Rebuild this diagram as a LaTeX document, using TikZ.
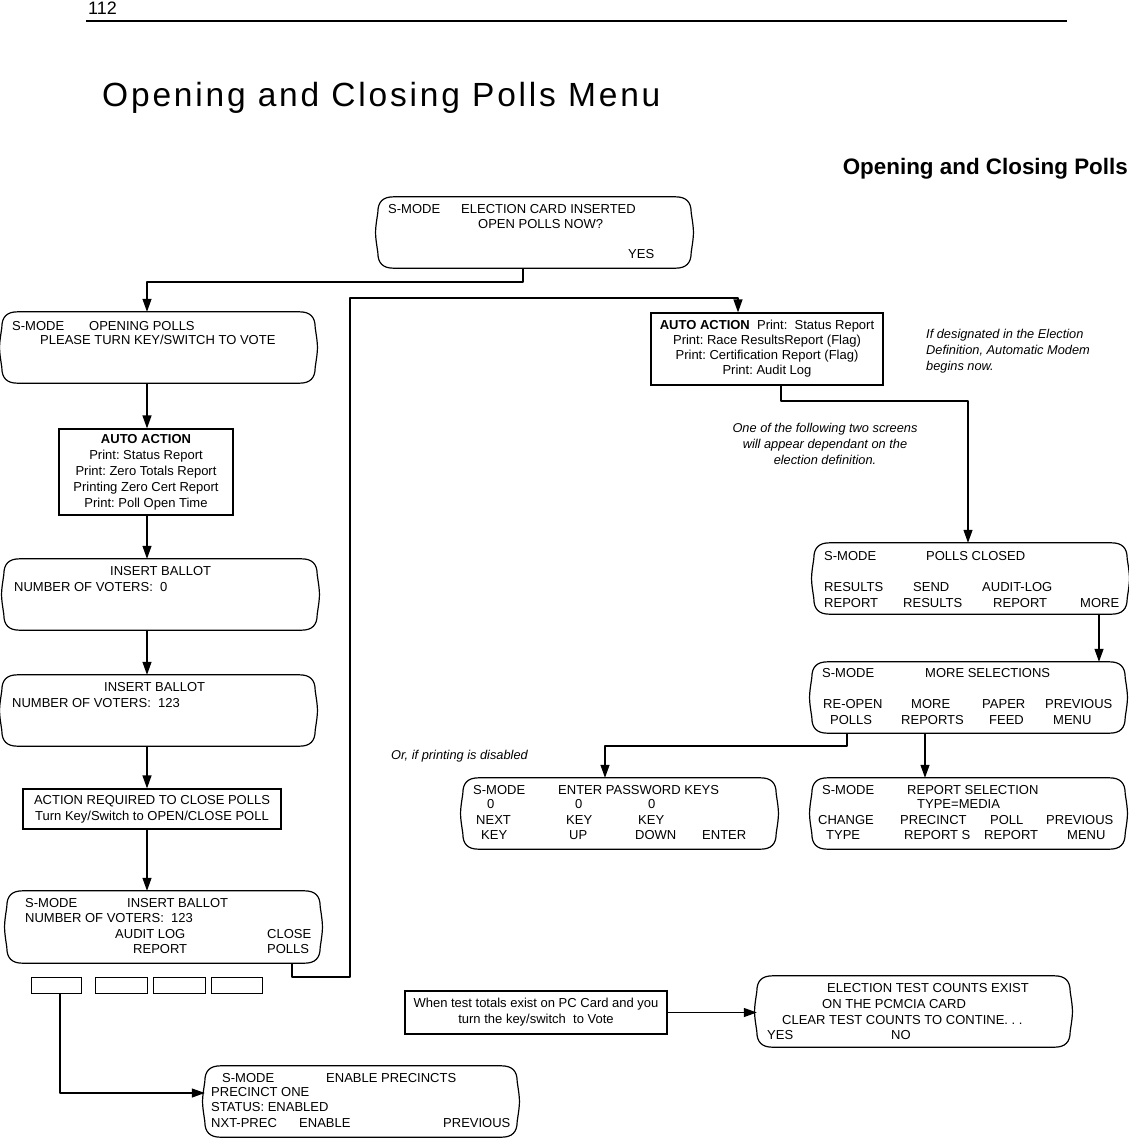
\documentclass[tikz,border=0pt]{standalone}
\usepackage{fontspec}
\setmainfont{Liberation Sans}
\newfontfamily\titlefont[LetterSpace=8.4]{Liberation Sans}
\usetikzlibrary{arrows.meta}
\frenchspacing
\newcommand\fs{\fontsize{13}{15.5}\selectfont}
\newcommand\scrframe[1]{%
\draw[ln] ([xshift=16pt]#1.north west) -- ([xshift=-16pt]#1.north east)
 .. controls ([xshift=-5pt]#1.north east) and ([yshift=-5pt]#1.north east) .. ([yshift=-16pt]#1.north east)
 .. controls ([xshift=3pt]#1.east) .. ([yshift=16pt]#1.south east)
 .. controls ([yshift=5pt]#1.south east) and ([xshift=-5pt]#1.south east) .. ([xshift=-16pt]#1.south east)
 -- ([xshift=16pt]#1.south west)
 .. controls ([xshift=5pt]#1.south west) and ([yshift=5pt]#1.south west) .. ([yshift=16pt]#1.south west)
 .. controls ([xshift=-3pt]#1.west) .. ([yshift=-16pt]#1.north west)
 .. controls ([yshift=-5pt]#1.north west) and ([xshift=5pt]#1.north west) .. ([xshift=16pt]#1.north west) -- cycle;}
\tikzset{
 ln/.style={line width=1.2pt, line join=round},
 arr/.style={ln, -{Triangle[length=13pt,width=9pt]}},
 scr/.style={minimum width=313pt, minimum height=71pt, inner sep=0pt, draw=none},
 bx/.style={draw, line width=1.2pt, align=center, font=\fontsize{13}{16}\selectfont, inner sep=0pt},
 btn/.style={draw, line width=1pt, minimum height=16pt, inner sep=0pt},
 t/.style={anchor=base west, inner sep=0pt, font=\fs, yshift=-4.6pt},
 note/.style={font=\fontsize{12.8}{16}\selectfont\itshape, inner sep=0pt}
}
\begin{document}
\begin{tikzpicture}[x=1pt,y=-1pt]
\fill[white] (0,0) rectangle (1129,1138);
\useasboundingbox (0,0) rectangle (1129,1138);

% header
\node[anchor=west, inner sep=0pt, font=\fontsize{18}{18}\selectfont] (pg) at (88,8) {112};
\draw[line width=1.5pt] (86,21) -- (1067,21);
\node[anchor=base west, inner sep=0pt, font=\fontsize{33.5}{36}\titlefont] (title) at (102,106) {Opening and Closing Polls Menu};
\node[anchor=base east, inner sep=0pt, font=\fontsize{22.4}{24}\selectfont\bfseries] (sub) at (1128,174) {Opening and Closing Polls};

% screens
\node[scr] (s1) at (534.5,232.5) {};
\node[scr] (s2) at (158.5,347.5) {};
\node[scr] (s3) at (160.5,594.5) {};
\node[scr] (s4) at (158.5,710.5) {};
\node[scr, minimum height=72pt] (s5) at (163.5,927) {};
\node[scr] (s6) at (970.5,578.5) {};
\node[scr] (s7) at (968.5,697.5) {};
\node[scr] (s9) at (619.5,813.5) {};
\node[scr] (s10) at (968.5,813.5) {};
\node[scr] (s11) at (913.5,1011.5) {};
\node[scr, minimum width=312pt] (s8) at (361,1101.5) {};
\foreach \n in {s1,s2,s3,s4,s5,s6,s7,s8,s9,s10,s11} {\scrframe{\n}}

% rectangular boxes
\node[bx, minimum width=174pt, minimum height=86pt] (a1) at (146,472) {\textbf{AUTO ACTION}\\Print: Status Report\\Print: Zero Totals Report\\Printing Zero Cert Report\\Print: Poll Open Time};
\node[bx, minimum width=258pt, minimum height=40pt] (r2) at (152,809) {ACTION REQUIRED TO CLOSE POLLS\\Turn Key/Switch to OPEN/CLOSE POLL};
\node[bx, minimum width=232pt, minimum height=72pt, font=\fontsize{13}{15}\selectfont] (a2) at (767,349) {\textbf{AUTO ACTION}\ \ Print:\ \ Status Report\\Print: Race ResultsReport (Flag)\\Print: Certification Report (Flag)\\Print: Audit Log};
\node[bx, minimum width=262pt, minimum height=43pt] (r3) at (536,1012.5) {When test totals exist on PC Card and you\\turn the key/switch\ \ to Vote};

% buttons
\node[btn, minimum width=50pt] (b1) at (56,985) {};
\node[btn, minimum width=52pt] (b2) at (121,985) {};
\node[btn, minimum width=52pt] (b3) at (179,985) {};
\node[btn, minimum width=51pt] (b4) at (236.5,985) {};

% notes
\node[note, align=left, anchor=west] (n1) at (926,351) {If designated in the Election\\Definition, Automatic Modem\\begins now.};
\node[note, align=center] (n2) at (825,444) {One of the following two screens\\will appear dependant on the\\election definition.};
\node[note, anchor=west] (n3) at (391,756) {Or, if printing is disabled};

% s1 text
\node[t] (s1a) at (388,209) {S-MODE};
\node[t] (s1b) at (461,209) {ELECTION CARD INSERTED};
\node[t] (s1c) at (478,224) {OPEN POLLS NOW?};
\node[t] (s1d) at (628,254) {YES};
% s2
\node[t] (s2a) at (12,326) {S-MODE};
\node[t] (s2b) at (89,326) {OPENING POLLS};
\node[t] (s2c) at (40,340) {PLEASE TURN KEY/SWITCH TO VOTE};
% s3
\node[t] (s3a) at (110,571) {INSERT BALLOT};
\node[t] (s3b) at (14,587) {NUMBER OF VOTERS:\ \ 0};
% s4
\node[t] (s4a) at (104,687) {INSERT BALLOT};
\node[t] (s4b) at (12,703) {NUMBER OF VOTERS:\ \ 123};
% s5
\node[t] (s5a) at (25,903) {S-MODE};
\node[t] (s5b) at (127,903) {INSERT BALLOT};
\node[t] (s5c) at (25,918) {NUMBER OF VOTERS:\ \ 123};
\node[t] (s5d) at (115,934) {AUDIT LOG};
\node[t] (s5e) at (267,934) {CLOSE};
\node[t] (s5f) at (133,949) {REPORT};
\node[t] (s5g) at (267,949) {POLLS};
% s8
\node[t] (s8a) at (222,1078) {S-MODE};
\node[t] (s8b) at (326,1078) {ENABLE PRECINCTS};
\node[t] (s8c) at (211,1092) {PRECINCT ONE};
\node[t] (s8d) at (211,1107) {STATUS: ENABLED};
\node[t] (s8e) at (211,1123) {NXT-PREC};
\node[t] (s8f) at (299,1123) {ENABLE};
\node[t] (s8g) at (443,1123) {PREVIOUS};
% s6
\node[t] (s6a) at (824,556) {S-MODE};
\node[t] (s6b) at (926,556) {POLLS CLOSED};
\node[t] (s6c) at (824,587) {RESULTS};
\node[t] (s6d) at (913,587) {SEND};
\node[t] (s6e) at (982,587) {AUDIT-LOG};
\node[t] (s6f) at (824,603) {REPORT};
\node[t] (s6g) at (903,603) {RESULTS};
\node[t] (s6h) at (993,603) {REPORT};
\node[t] (s6i) at (1080,603) {MORE};
% s7
\node[t] (s7a) at (822,673) {S-MODE};
\node[t] (s7b) at (925,673) {MORE SELECTIONS};
\node[t] (s7c) at (823,704) {RE-OPEN};
\node[t] (s7d) at (911,704) {MORE};
\node[t] (s7e) at (982,704) {PAPER};
\node[t] (s7f) at (1045,704) {PREVIOUS};
\node[t] (s7g) at (830,720) {POLLS};
\node[t] (s7h) at (901,720) {REPORTS};
\node[t] (s7i) at (989,720) {FEED};
\node[t] (s7j) at (1053,720) {MENU};
% s9
\node[t] (s9a) at (473,790) {S-MODE};
\node[t] (s9b) at (558,790) {ENTER PASSWORD KEYS};
\node[t] (s9c) at (487,804) {0};
\node[t] (s9d) at (575,804) {0};
\node[t] (s9e) at (648,804) {0};
\node[t] (s9f) at (476,820) {NEXT};
\node[t] (s9g) at (566,820) {KEY};
\node[t] (s9h) at (638,820) {KEY};
\node[t] (s9i) at (481,835) {KEY};
\node[t] (s9j) at (569,835) {UP};
\node[t] (s9k) at (635,835) {DOWN};
\node[t] (s9l) at (702,835) {ENTER};
% s10
\node[t] (s10a) at (822,790) {S-MODE};
\node[t] (s10b) at (907,790) {REPORT SELECTION};
\node[t] (s10c) at (917,804) {TYPE=MEDIA};
\node[t] (s10d) at (818,820) {CHANGE};
\node[t] (s10e) at (900,820) {PRECINCT};
\node[t] (s10f) at (990,820) {POLL};
\node[t] (s10g) at (1046,820) {PREVIOUS};
\node[t] (s10h) at (826,835) {TYPE};
\node[t] (s10i) at (904,835) {REPORT S};
\node[t] (s10j) at (984,835) {REPORT};
\node[t] (s10k) at (1067,835) {MENU};
% s11
\node[t] (s11a) at (827,988) {ELECTION TEST COUNTS EXIST};
\node[t] (s11b) at (822,1004) {ON THE PCMCIA CARD};
\node[t] (s11c) at (782,1020) {CLEAR TEST COUNTS TO CONTINE. . .};
\node[t] (s11d) at (767,1035) {YES};
\node[t] (s11e) at (891,1035) {NO};

% junction coordinates
\coordinate (c1) at (523,282);
\coordinate (k1) at (147,282);
\coordinate (col) at (147,0);
\coordinate (q) at (292,977);
\coordinate (j1) at (350,977);
\coordinate (j2) at (350,298);
\coordinate (q2) at (738,298);
\coordinate (q3) at (781,401);
\coordinate (q4) at (968,401);
\coordinate (q6) at (1099,0);
\coordinate (q7) at (847,746);
\coordinate (q8) at (605,746);
\coordinate (q9) at (925,0);
\coordinate (q5) at (60,1093);

% connectors
\draw[arr] (s1.south -| c1) -- (c1) -- (k1) -- (k1 |- s2.north);
\draw[arr] (s2.south -| col) -- (a1.north -| col);
\draw[arr] (a1.south -| col) -- (s3.north -| col);
\draw[arr] (s3.south -| col) -- (s4.north -| col);
\draw[arr] (s4.south -| col) -- (r2.north -| col);
\draw[arr] (r2.south -| col) -- (s5.north -| col);
\draw[arr] (s5.south -| q) -- (q) -- (j1) -- (j2) -- (q2) -- (q2 |- a2.north);
\draw[arr] (a2.south -| q3) -- (q3) -- (q4) -- (q4 |- s6.north);
\draw[arr] (s6.south -| q6) -- (s7.north -| q6);
\draw[arr] (s7.south -| q7) -- (q7) -- (q8) -- (q8 |- s9.north);
\draw[arr] (s7.south -| q9) -- (s10.north -| q9);
\draw[arr] (b1.south -| q5) -- (q5) -- (q5 -| s8.west);
\draw[arr] (r3.east) -- (r3.east -| s11.west);
\end{tikzpicture}
\end{document}
